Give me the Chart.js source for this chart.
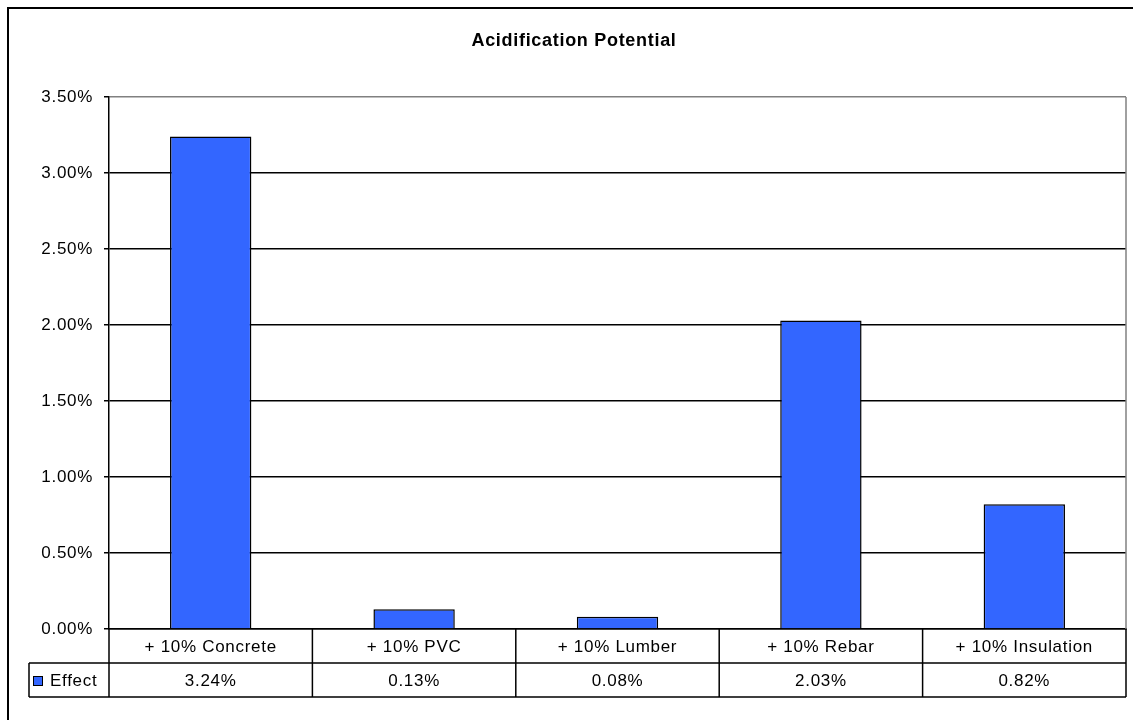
<!DOCTYPE html>
<html>
<head>
<meta charset="utf-8">
<script src="https://cdn.jsdelivr.net/npm/chart.js@4"></script>
<style>
  html, body { margin: 0; padding: 0; background: #fff; }
  #wrap { width: 1133px; height: 720px; }
</style>
</head>
<body>
<div id="wrap"><canvas id="myChart" width="1133" height="720"></canvas></div>
<script>
let labels = ['+ 10% Concrete', '+ 10% PVC', '+ 10% Lumber', '+ 10% Rebar', '+ 10% Insulation'];
let effect = [3.24, 0.13, 0.08, 2.03, 0.82];
let seriesName = 'Effect';
let chartTitle = 'Acidification Potential';
let yMax = 3.5;
let yStep = 0.5;

let barColor = '#3366FF';
let font = 'Arial, "Liberation Sans", sans-serif';

let pct = (v) => v.toFixed(2) + '%';

// slightly looser text, like the spreadsheet renderer
let spacingPlugin = {
    id: 'spacing',
    beforeDraw: (chart) => {
        chart.ctx.letterSpacing = '0.7px';
    }
};

// frame, title, plot border and the data table under the axis
let tablePlugin = {
    id: 'dataTable',
    afterDraw: (chart) => {
        let c = chart.ctx;
        let area = chart.chartArea;
        let x = chart.scales.x;
        let rowH = 34;
        let catW = x.width / labels.length;
        let top = area.bottom;
        let mid = top + rowH;
        let bot = mid + rowH;
        let legLeft = 29;

        c.save();

        // outer frame
        c.strokeStyle = '#000';
        c.lineWidth = 2;
        c.strokeRect(8, 8, 1140, 730);

        // title
        c.fillStyle = '#000';
        c.font = 'bold 18px ' + font;
        c.textAlign = 'center';
        c.textBaseline = 'middle';
        c.fillText(chartTitle, 574, 41);

        // right edge of plot area
        c.strokeStyle = '#808080';
        c.lineWidth = 1.5;
        c.beginPath();
        c.moveTo(area.right, area.top);
        c.lineTo(area.right, area.bottom);
        c.stroke();

        // table grid
        c.strokeStyle = '#000';
        c.lineWidth = 1.5;
        c.beginPath();
        c.moveTo(legLeft, mid);
        c.lineTo(area.right, mid);
        c.moveTo(legLeft, bot);
        c.lineTo(area.right, bot);
        c.moveTo(legLeft, mid);
        c.lineTo(legLeft, bot);
        for (let i = 0; i <= labels.length; i++) {
            let px = area.left + i * catW;
            c.moveTo(px, top);
            c.lineTo(px, bot);
        }
        c.stroke();

        // category and value rows
        c.font = '17px ' + font;
        c.fillStyle = '#000';
        labels.forEach((lab, i) => {
            let cx = x.getPixelForValue(i);
            c.fillText(lab, cx, top + rowH / 2 + 1);
            c.fillText(pct(effect[i]), cx, mid + rowH / 2 + 1);
        });

        // legend key
        c.fillStyle = barColor;
        c.fillRect(33, mid + 13, 9, 9);
        c.lineWidth = 1;
        c.strokeRect(33.5, mid + 13.5, 9, 9);
        c.fillStyle = '#000';
        c.textAlign = 'left';
        c.fillText(seriesName, 50, mid + rowH / 2 + 1);

        c.restore();
    }
};

let ctx = document.getElementById('myChart').getContext('2d');

let myChart = new Chart(ctx, {
    type: 'bar',
    data: {
        labels: labels,
        datasets: [{
            label: seriesName,
            data: effect,
            backgroundColor: barColor,
            borderColor: '#000',
            borderWidth: 1.5,
            categoryPercentage: 0.4,
            barPercentage: 1
        }]
    },
    options: {
        responsive: false,
        animation: false,
        layout: {
            padding: { top: 97, right: 7, bottom: 0, left: 0 }
        },
        plugins: {
            legend: { display: false },
            title: { display: false },
            tooltip: { enabled: false }
        },
        scales: {
            x: {
                grid: { display: false },
                ticks: { display: false },
                border: { color: '#000', width: 1.5 },
                afterFit: (scale) => { scale.height = 91; }
            },
            y: {
                min: 0,
                max: yMax,
                ticks: {
                    stepSize: yStep,
                    color: '#000',
                    padding: 11,
                    font: { family: font, size: 17 },
                    callback: (v) => pct(v)
                },
                grid: {
                    color: (context) => context.tick && context.tick.value === yMax ? '#808080' : '#000',
                    lineWidth: 1.5,
                    tickLength: 5,
                    tickColor: '#000'
                },
                border: { color: '#000', width: 1.5 },
                afterFit: (scale) => { scale.width = 109; }
            }
        }
    },
    plugins: [spacingPlugin, tablePlugin]
});
</script>
</body>
</html>
